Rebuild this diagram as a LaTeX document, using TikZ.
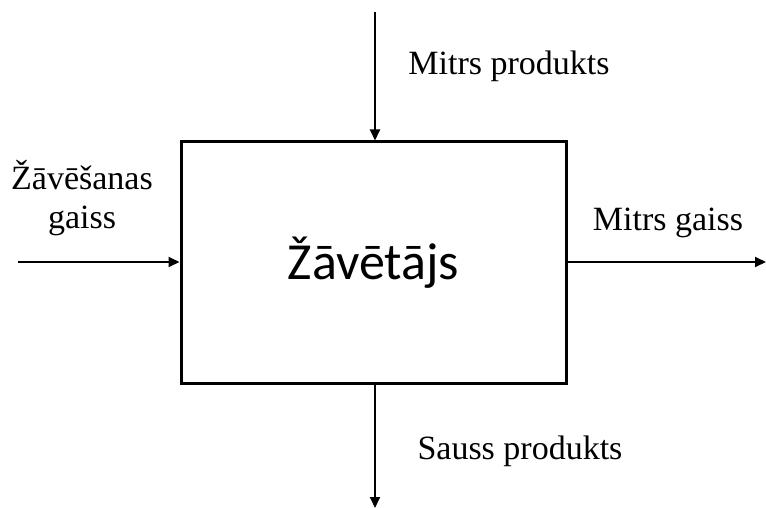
\documentclass[tikz,border=0pt]{standalone}
\usepackage{fontspec}
\setmainfont{Liberation Serif}
\newfontfamily\boxfont{Carlito}
\usetikzlibrary{arrows.meta}
\begin{document}
\begin{tikzpicture}[x=1pt,y=-1pt,
  flow/.style={line width=2pt,-{Triangle[length=11pt,width=10pt]}},
  lbl/.style={font=\fontsize{34}{39}\selectfont,inner sep=0pt,align=center}]
\useasboundingbox (0,0) rectangle (766,508);
% process block
\node[draw,line width=3pt,minimum width=385pt,minimum height=241pt,inner sep=0pt,
  font=\boxfont\fontsize{52}{56}\selectfont] (dryer) at (373.5,262.5) {Žāvētājs};
% free ends of the flows
\coordinate (topin) at (375,12);
\coordinate (leftin) at (18,262);
\coordinate (rightout) at (766,262);
\coordinate (botout) at (375,508);
\draw[flow] (topin) -- (topin |- dryer.north);
\draw[flow] (leftin) -- (leftin -| dryer.west);
\draw[flow] (rightout -| dryer.east) -- (rightout);
\draw[flow] (botout |- dryer.south) -- (botout);
% flow labels
\node[lbl] (ltop) at (509,66) {Mitrs produkts};
\node[lbl] (lleft) at (82,198) {Žāvēšanas\\gaiss};
\node[lbl] (lright) at (668,223) {Mitrs gaiss};
\node[lbl] (lbot) at (520,451) {Sauss produkts};
\end{tikzpicture}
\end{document}
